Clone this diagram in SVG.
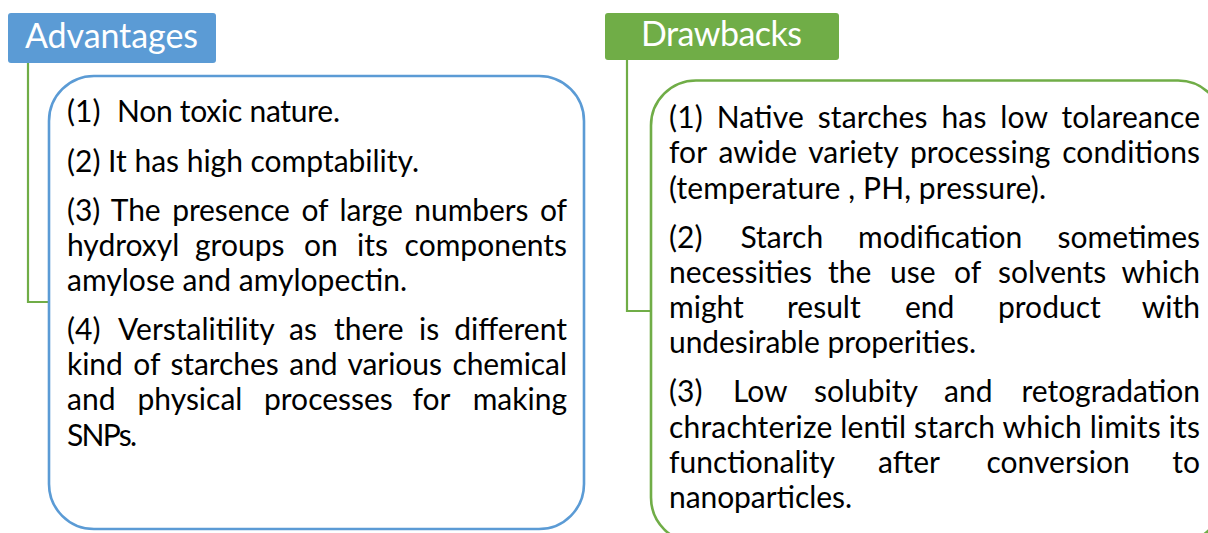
<svg xmlns="http://www.w3.org/2000/svg" width="1208" height="533" viewBox="0 0 1208 533">
<style>
.hdr{font-family:Lato,"Liberation Sans",sans-serif;font-size:34px;fill:#ffffff}
.b{font-family:Lato,"Open Sans",sans-serif;font-size:30px;fill:#000000}
.e{text-anchor:end}
.conn{stroke:#70AD47;stroke-width:2.2;fill:none}
.boxA{fill:#ffffff;stroke:#5B9BD5;stroke-width:2.6}
.boxD{fill:#ffffff;stroke:#70AD47;stroke-width:2.6}
</style>
<rect width="1208" height="533" fill="#ffffff"/>
<g id="connectors">
<polyline class="conn" points="28,63 28,302 49,302"/>
<polyline class="conn" points="627,60 627,311 651,311"/>
</g>
<g id="advantages-header">
<rect x="8" y="13" width="208" height="50" rx="3" fill="#5B9BD5"/>
<text class="hdr" x="25" y="48" textLength="173">Advantages</text>
</g>
<g id="advantages-body">
<rect class="boxA" x="49" y="76" width="535" height="453" rx="45"/>
<text class="b" x="67" y="122">(1)</text>
<text class="b" x="117" y="122" textLength="223">Non toxic nature.</text>
<text class="b" x="67" y="172" textLength="352">(2) It has high comptability.</text>
<text class="b" x="67" y="221" textLength="500" lengthAdjust="spacing" word-spacing="4">(3) The presence of large numbers of</text>
<text class="b" y="256"><tspan x="67">hydroxyl</tspan><tspan x="195">groups</tspan><tspan x="304">on</tspan><tspan x="357">its</tspan></text>
<text class="b e" x="567" y="256">components</text>
<text class="b" x="67" y="291" textLength="340">amylose and amylopectin.</text>
<text class="b" y="340"><tspan x="67">(4)</tspan><tspan x="118">Verstalitility</tspan><tspan x="289">as</tspan><tspan x="334">there</tspan><tspan x="419">is</tspan></text>
<text class="b e" x="567" y="340">different</text>
<text class="b" x="67" y="375" textLength="500" lengthAdjust="spacing" word-spacing="3">kind of starches and various chemical</text>
<text class="b" y="410"><tspan x="67">and</tspan><tspan x="137.5">physical</tspan><tspan x="264">processes</tspan><tspan x="412.5">for</tspan></text>
<text class="b e" x="567" y="410">making</text>
<text class="b" x="67" y="446" textLength="70">SNPs.</text>
</g>
<g id="drawbacks-header">
<rect x="605" y="13" width="234" height="47" rx="3" fill="#70AD47"/>
<text class="hdr" x="641" y="46" textLength="161">Drawbacks</text>
</g>
<g id="drawbacks-body">
<rect class="boxD" x="651" y="80.5" width="572" height="462" rx="45"/>
<text class="b" x="669" y="128" textLength="531" lengthAdjust="spacing" word-spacing="6">(1) Native starches has low tolareance</text>
<text class="b" x="669" y="163" textLength="531" lengthAdjust="spacing" word-spacing="4">for awide variety processing conditions</text>
<text class="b" x="669" y="198.5" textLength="377">(temperature , PH, pressure).</text>
<text class="b" y="247.5"><tspan x="669">(2)</tspan><tspan x="740.5">Starch</tspan><tspan x="858">modification</tspan></text>
<text class="b e" x="1200" y="247.5">sometimes</text>
<text class="b" y="282.5"><tspan x="669">necessities</tspan><tspan x="828">the</tspan><tspan x="890">use</tspan><tspan x="954">of</tspan><tspan x="998">solvents</tspan></text>
<text class="b e" x="1200" y="282.5">which</text>
<text class="b" y="318"><tspan x="669">might</tspan><tspan x="787">result</tspan><tspan x="905">end</tspan><tspan x="998">product</tspan></text>
<text class="b e" x="1200" y="318">with</text>
<text class="b" x="669" y="353" textLength="307">undesirable properities.</text>
<text class="b" y="402"><tspan x="669">(3)</tspan><tspan x="733">Low</tspan><tspan x="814">solubity</tspan><tspan x="944">and</tspan></text>
<text class="b e" x="1200" y="402">retogradation</text>
<text class="b" x="669" y="437.5" textLength="531" lengthAdjust="spacing">chrachterize lentil starch which limits its</text>
<text class="b" y="472.5"><tspan x="669">functionality</tspan><tspan x="878">after</tspan><tspan x="986.5">conversion</tspan></text>
<text class="b e" x="1200" y="472.5">to</text>
<text class="b" x="669" y="508" textLength="183">nanoparticles.</text>
</g>
</svg>
